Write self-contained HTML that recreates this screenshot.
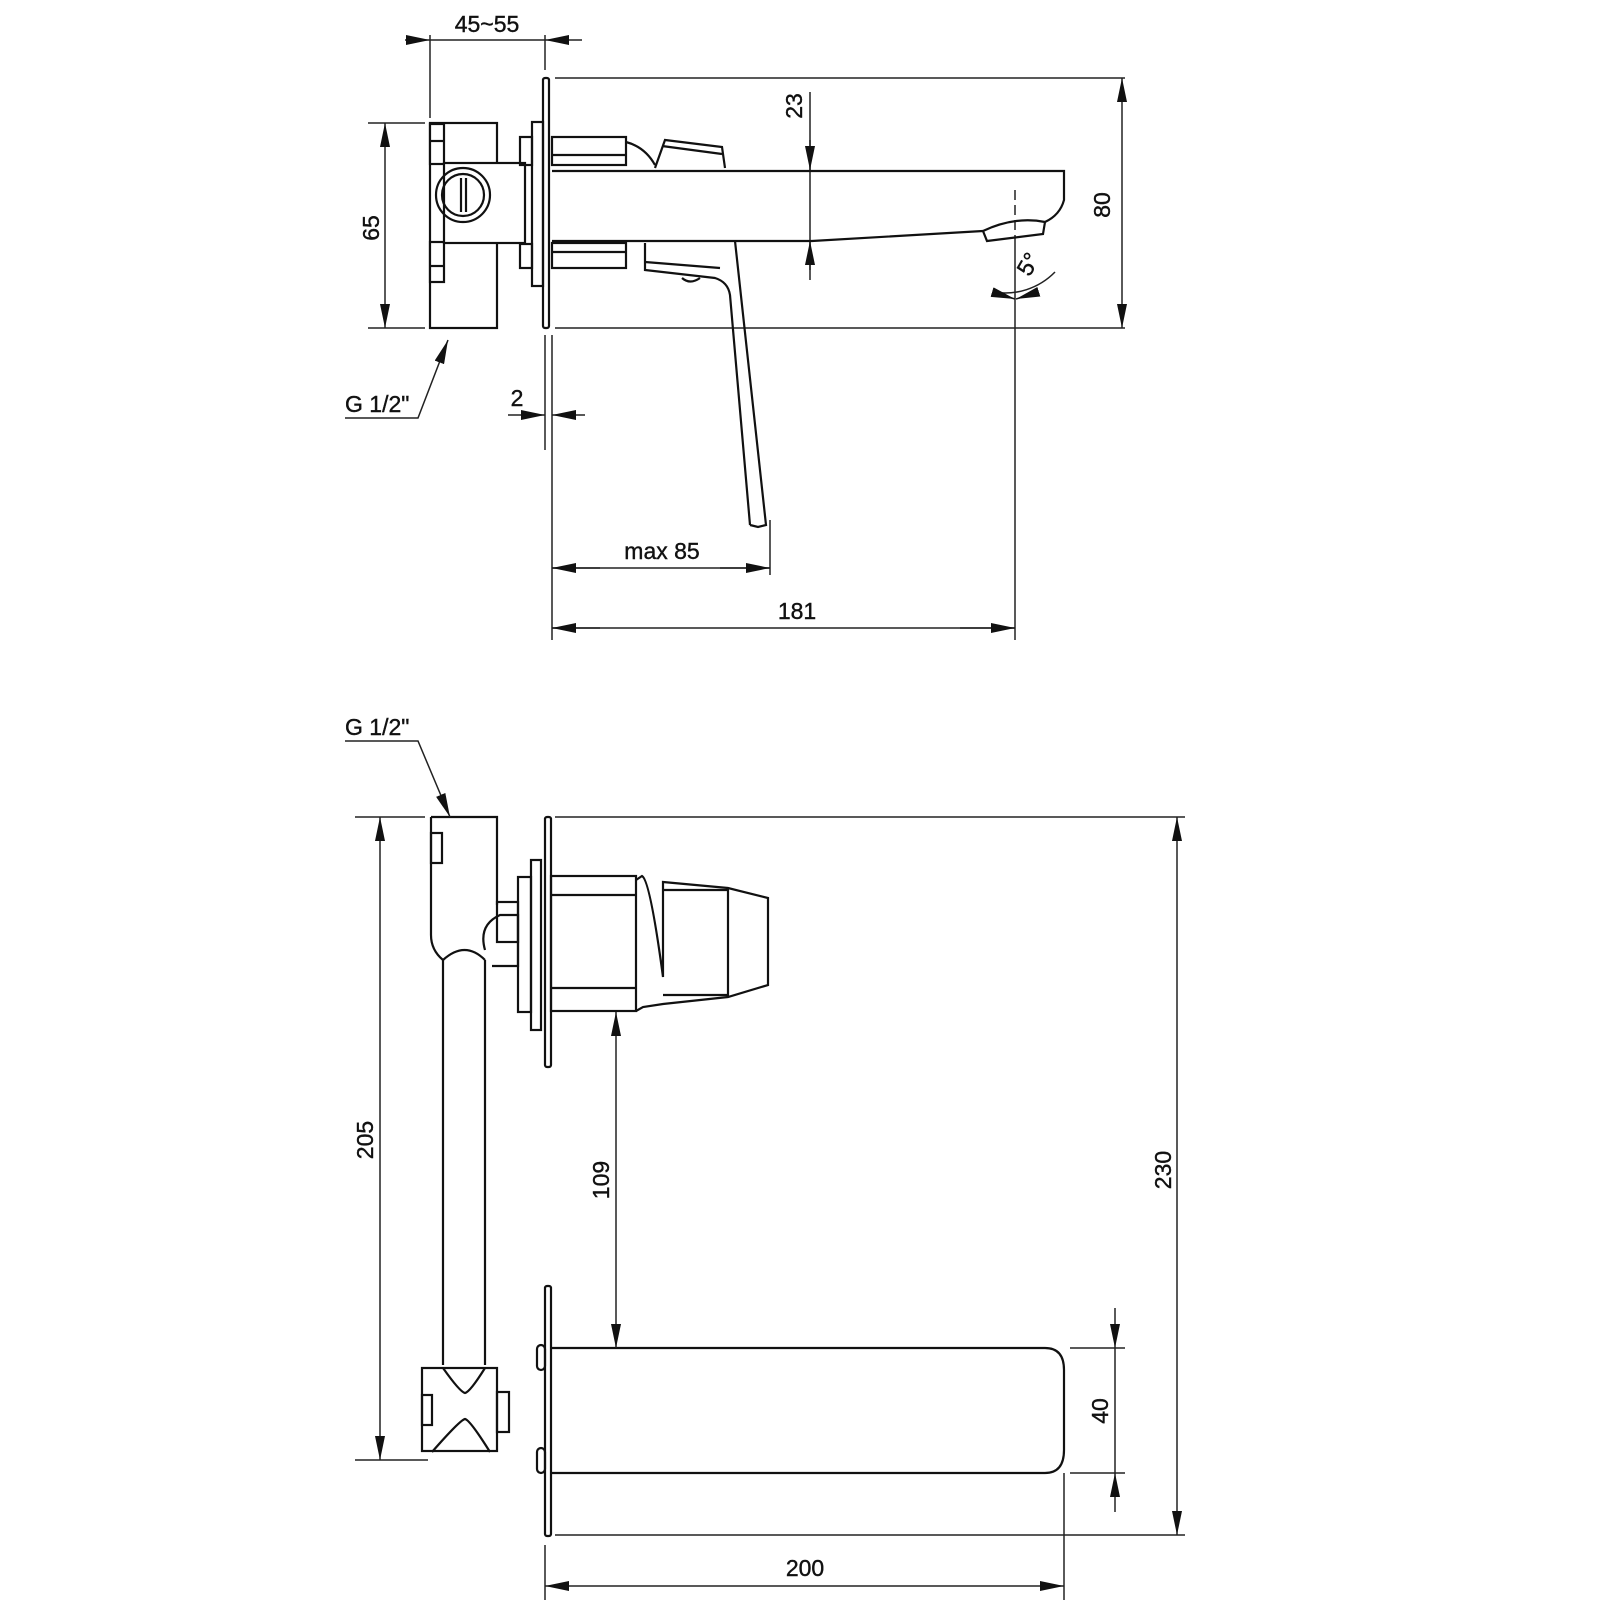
<!DOCTYPE html>
<html><head><meta charset="utf-8"><style>
html,body{margin:0;padding:0;background:#fff}
svg{display:block}
text{font-family:"Liberation Sans",sans-serif;font-size:23px;fill:#111;stroke:#111;stroke-width:0.4}
</style></head><body>
<svg width="1600" height="1600" viewBox="0 0 1600 1600" xmlns="http://www.w3.org/2000/svg">
<defs>
<marker id="a" viewBox="0 0 24 10" refX="24" refY="5" markerWidth="24" markerHeight="10" markerUnits="userSpaceOnUse" orient="auto"><path d="M0,0 L24,5 L0,10 z" fill="#111"/></marker>
</defs>
<g fill="none" stroke="#222" stroke-width="1.5">
<line x1="555" y1="78" x2="1125" y2="78"/>
<line x1="555" y1="328" x2="1125" y2="328"/>
<line x1="368" y1="123" x2="425" y2="123"/>
<line x1="368" y1="328" x2="425" y2="328"/>
<line x1="430" y1="35" x2="430" y2="118"/>
<line x1="545" y1="35" x2="545" y2="70"/>
<line x1="545" y1="335" x2="545" y2="450"/>
<line x1="552" y1="335" x2="552" y2="640"/>
<line x1="1015" y1="240" x2="1015" y2="640"/>
<line x1="1015" y1="190" x2="1015" y2="240" stroke-dasharray="10,5"/>
<line x1="770" y1="520" x2="770" y2="575"/>
<line x1="405" y1="40" x2="430" y2="40" marker-end="url(#a)"/>
<line x1="430" y1="40" x2="545" y2="40"/>
<line x1="582" y1="40" x2="545" y2="40" marker-end="url(#a)"/>
<line x1="385" y1="225" x2="385" y2="123" marker-end="url(#a)"/>
<line x1="385" y1="225" x2="385" y2="328" marker-end="url(#a)"/>
<line x1="1122" y1="200" x2="1122" y2="78" marker-end="url(#a)"/>
<line x1="1122" y1="200" x2="1122" y2="328" marker-end="url(#a)"/>
<line x1="810" y1="92" x2="810" y2="280"/>
<line x1="810" y1="140" x2="810" y2="170" marker-end="url(#a)"/>
<line x1="810" y1="270" x2="810" y2="241" marker-end="url(#a)"/>
<line x1="508" y1="415" x2="545" y2="415" marker-end="url(#a)"/>
<line x1="585" y1="415" x2="552" y2="415" marker-end="url(#a)"/>
<line x1="552" y1="568" x2="770" y2="568"/>
<line x1="600" y1="568" x2="552" y2="568" marker-end="url(#a)"/>
<line x1="720" y1="568" x2="770" y2="568" marker-end="url(#a)"/>
<line x1="552" y1="628" x2="1015" y2="628"/>
<line x1="600" y1="628" x2="552" y2="628" marker-end="url(#a)"/>
<line x1="960" y1="628" x2="1015" y2="628" marker-end="url(#a)"/>
<polyline points="345,418 418,418 448,340" marker-end="url(#a)"/>
<path d="M993,292 A70,70 0 0 0 1055,272"/>
<line x1="995" y1="293" x2="1015" y2="299" marker-end="url(#a)"/>
<line x1="1035" y1="293" x2="1016" y2="299" marker-end="url(#a)"/>
</g>
<g fill="none" stroke="#111" stroke-width="2.2">
<rect x="430" y="123" width="67" height="205"/>
<rect x="430" y="124" width="14" height="40" fill="#fff"/>
<line x1="430" y1="141" x2="444" y2="141"/>
<rect x="430" y="242" width="14" height="40" fill="#fff"/>
<line x1="430" y1="266" x2="444" y2="266"/>
<rect x="444" y="163" width="81" height="80" fill="#fff"/>
<circle cx="463" cy="195" r="27"/>
<circle cx="463" cy="195" r="21"/>
<line x1="461" y1="178" x2="461" y2="212"/><line x1="466" y1="178" x2="466" y2="212"/>
<rect x="520" y="137" width="12" height="28"/>
<rect x="520" y="244" width="12" height="24"/>
<rect x="532" y="122" width="11" height="164"/>
<rect x="543" y="78" width="6" height="250" rx="2"/>
<rect x="552" y="137" width="74" height="28"/>
<line x1="552" y1="155" x2="626" y2="155"/>
<rect x="552" y="243" width="74" height="25"/>
<line x1="552" y1="252" x2="626" y2="252"/>
<path d="M626,142 Q645,147 655,165"/>
<path d="M655,168 L665,140 L722,147 L725,168"/>
<line x1="662" y1="146" x2="722" y2="154"/>
<path d="M552,171 L1064,171 L1064,200 Q1060,215 1045,222"/>
<path d="M552,241 L812,241 L983,231"/>
<path d="M983,231 L987,241 L1043,234 L1045,222 Q1015,216 983,231"/>
<path d="M645,243 L645,270 L715,278 Q728,282 730,295 L750,525"/>
<path d="M645,262 L720,268"/>
<path d="M735,241 L766,525 L758,527 L750,525"/>
<path d="M682,278 Q690,285 700,278"/>
<path d="M431,817 L497,817 L497,905 M431,817 L431,935 Q431,950 443,960 L443,1365 M485,960 L485,1365"/>
<path d="M443,960 Q465,940 485,960"/>
<rect x="431" y="833" width="11" height="30"/>
<path d="M485,950 Q478,925 500,915 L518,915 L518,966 L492,966"/>
<rect x="497" y="902" width="21" height="40"/>
<rect x="518" y="877" width="13" height="135"/>
<rect x="531" y="860" width="10" height="170"/>
<rect x="545" y="817" width="6" height="250" rx="2"/>
<rect x="551" y="876" width="85" height="135"/>
<line x1="551" y1="895" x2="636" y2="895"/><line x1="551" y1="988" x2="636" y2="988"/>
<path d="M636,880 L642,876 Q650,880 663,977 L663,882 L728,888 L768,898 L768,985 L728,997 L663,1004 L643,1007 L636,1011"/>
<line x1="663" y1="890" x2="728" y2="890"/><line x1="663" y1="995" x2="728" y2="995"/>
<line x1="728" y1="888" x2="728" y2="997"/>
<rect x="545" y="1286" width="6" height="250" rx="2"/>
<path d="M551,1348 L1045,1348 Q1064,1348 1064,1370 L1064,1450 Q1064,1473 1045,1473 L551,1473"/>
<rect x="422" y="1368" width="75" height="83"/>
<rect x="422" y="1395" width="10" height="30"/>
<rect x="497" y="1392" width="12" height="40"/>
<rect x="537" y="1345" width="8" height="25" rx="4"/>
<rect x="537" y="1448" width="8" height="25" rx="4"/>
<path d="M443,1368 Q460,1392 465,1393 Q470,1392 485,1368"/>
<path d="M432,1452 Q460,1420 465,1419 Q470,1420 490,1452"/>
</g>
<g fill="none" stroke="#222" stroke-width="1.5">
<line x1="355" y1="817" x2="425" y2="817"/>
<line x1="555" y1="817" x2="1185" y2="817"/>
<line x1="355" y1="1460" x2="428" y2="1460"/>
<line x1="555" y1="1535" x2="1185" y2="1535"/>
<line x1="1070" y1="1348" x2="1125" y2="1348"/>
<line x1="1070" y1="1473" x2="1125" y2="1473"/>
<line x1="1064" y1="1473" x2="1064" y2="1600"/>
<line x1="545" y1="1545" x2="545" y2="1600"/>
<line x1="380" y1="1140" x2="380" y2="817" marker-end="url(#a)"/>
<line x1="380" y1="1140" x2="380" y2="1460" marker-end="url(#a)"/>
<line x1="1177" y1="1170" x2="1177" y2="817" marker-end="url(#a)"/>
<line x1="1177" y1="1170" x2="1177" y2="1535" marker-end="url(#a)"/>
<line x1="616" y1="1180" x2="616" y2="1012" marker-end="url(#a)"/>
<line x1="616" y1="1180" x2="616" y2="1348" marker-end="url(#a)"/>
<line x1="1115" y1="1308" x2="1115" y2="1348" marker-end="url(#a)"/>
<line x1="1115" y1="1348" x2="1115" y2="1473"/>
<line x1="1115" y1="1512" x2="1115" y2="1473" marker-end="url(#a)"/>
<line x1="800" y1="1586" x2="545" y2="1586" marker-end="url(#a)"/>
<line x1="800" y1="1586" x2="1064" y2="1586" marker-end="url(#a)"/>
<polyline points="345,741 418,741 450,817" marker-end="url(#a)"/>
</g>
<g>
<text x="487" y="32" text-anchor="middle">45~55</text>
<text transform="translate(379,228) rotate(-90)" text-anchor="middle">65</text>
<text transform="translate(802,106) rotate(-90)" text-anchor="middle">23</text>
<text transform="translate(1110,205) rotate(-90)" text-anchor="middle">80</text>
<text transform="translate(1035,268) rotate(-60)" text-anchor="middle">5°</text>
<text x="345" y="412">G 1/2"</text>
<text x="517" y="406" text-anchor="middle">2</text>
<text x="662" y="559" text-anchor="middle">max 85</text>
<text x="797" y="619" text-anchor="middle">181</text>
<text x="345" y="735">G 1/2"</text>
<text transform="translate(373,1140) rotate(-90)" text-anchor="middle">205</text>
<text transform="translate(609,1180) rotate(-90)" text-anchor="middle">109</text>
<text transform="translate(1171,1170) rotate(-90)" text-anchor="middle">230</text>
<text transform="translate(1108,1411) rotate(-90)" text-anchor="middle">40</text>
<text x="805" y="1576" text-anchor="middle">200</text>
</g>
</svg>
</body></html>
